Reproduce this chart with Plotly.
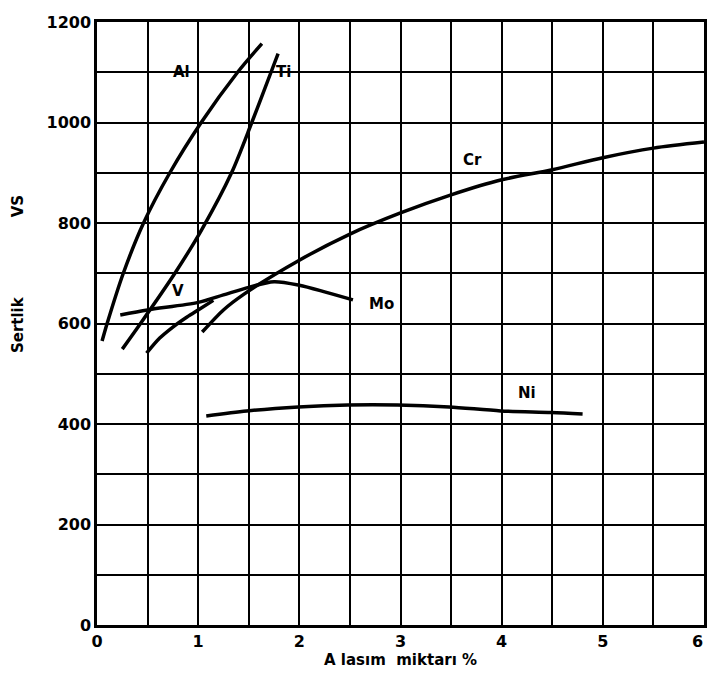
import plotly.graph_objects as go

al_x = [0.05, 0.10, 0.26, 0.46, 0.72, 1.03, 1.39, 1.63]
al_y = [565, 600, 700, 800, 900, 1000, 1100, 1157]

ti_x = [0.25, 0.43, 0.77, 1.03, 1.33, 1.53, 1.72, 1.79]
ti_y = [549, 600, 700, 785, 900, 1000, 1100, 1137]

v_x = [0.49, 0.62, 0.75, 0.89, 1.00, 1.15]
v_y = [541, 571, 593, 613, 627, 646]

cr_x = [1.04, 1.25, 1.45, 2.0, 2.5, 3.0, 3.5, 4.0, 4.5, 5.0, 5.5, 6.0]
cr_y = [583, 627, 658, 726, 778, 820, 856, 886, 906, 930, 949, 961]

mo_x = [0.23, 0.5, 1.0, 1.25, 1.5, 1.75, 2.0, 2.25, 2.53]
mo_y = [617, 627, 642, 657, 672, 683, 676, 663, 647]

ni_x = [1.08, 1.48, 1.99, 2.48, 2.97, 3.48, 3.99, 4.49, 4.80]
ni_y = [416, 426, 434, 438, 438, 434, 426, 423, 420]

curve_names = ["Al", "Ti", "V", "Cr", "Mo", "Ni"]
curve_xs = [al_x, ti_x, v_x, cr_x, mo_x, ni_x]
curve_ys = [al_y, ti_y, v_y, cr_y, mo_y, ni_y]

label_x = [0.84, 1.84, 0.80, 3.71, 2.81, 4.25]
label_y = [1100, 1100, 665, 926, 638, 462]

x_ticks = [0, 1, 2, 3, 4, 5]
x_last_tick = 6
y_ticks = [0, 200, 400, 600, 800, 1000, 1200]

FONT = "DejaVu Sans"

fig = go.Figure()
for name, xs, ys in zip(curve_names, curve_xs, curve_ys):
    fig.add_trace(go.Scatter(x=xs, y=ys, mode="lines", name=name,
                             line=dict(color="black", width=3.5, shape="spline", smoothing=0.8),
                             showlegend=False, cliponaxis=False))

for name, lx, ly in zip(curve_names, label_x, label_y):
    fig.add_annotation(x=lx, y=ly, text="<b>" + name + "</b>", showarrow=False,
                       font=dict(family=FONT, size=15, color="black"))

fig.update_layout(
    width=707, height=680,
    margin=dict(l=97, r=3, t=22, b=55, autoexpand=False),
    paper_bgcolor="white", plot_bgcolor="white",
    font=dict(family=FONT, color="black"),
)
fig.update_xaxes(range=[0, 6], tickvals=x_ticks, ticktext=["<b>%d</b>" % v for v in x_ticks],
                 automargin=False, ticklabeloverflow="allow",
                 showgrid=True, gridcolor="black", gridwidth=2,
                 minor=dict(dtick=0.5, showgrid=True, gridcolor="black", gridwidth=2),
                 showline=True, linecolor="black", linewidth=2.5, mirror=True,
                 zeroline=False, ticks="", tickfont=dict(family=FONT, size=16, color="black"))
fig.update_yaxes(range=[0, 1200], tickvals=y_ticks, ticktext=["<b>%d</b>" % v for v in y_ticks],
                 automargin=False, ticklabeloverflow="allow",
                 showgrid=True, gridcolor="black", gridwidth=2,
                 minor=dict(dtick=100, showgrid=True, gridcolor="black", gridwidth=2),
                 showline=True, linecolor="black", linewidth=2.5, mirror=True,
                 zeroline=False, ticks="", tickfont=dict(family=FONT, size=16, color="black"))

# last x tick label, right-aligned so that it stays inside the page
fig.add_annotation(xref="x", yref="paper", x=x_last_tick, y=-0.027, xanchor="right", yanchor="middle",
                   xshift=1, text="<b>%d</b>" % x_last_tick, showarrow=False,
                   font=dict(family=FONT, size=16, color="black"))

fig.add_annotation(xref="paper", yref="paper", x=0.5, y=-0.058, yanchor="middle",
                   text="<b>A lasım  miktarı %</b>", showarrow=False,
                   font=dict(family=FONT, size=15, color="black"))
fig.add_annotation(xref="paper", yref="paper", x=-0.13, xanchor="center", y=0.4975, textangle=-90,
                   text="<b>Sertlik</b>", showarrow=False,
                   font=dict(family=FONT, size=15, color="black"))
fig.add_annotation(xref="paper", yref="paper", x=-0.13, xanchor="center", y=0.716, textangle=-90,
                   text="<b>VS</b>", showarrow=False,
                   font=dict(family=FONT, size=15, color="black"))

fig.write_html("out.html", config={"displayModeBar": False},
               post_script="document.body.style.margin='0';document.body.style.overflow='hidden';"
                           "document.documentElement.style.overflow='hidden';")
